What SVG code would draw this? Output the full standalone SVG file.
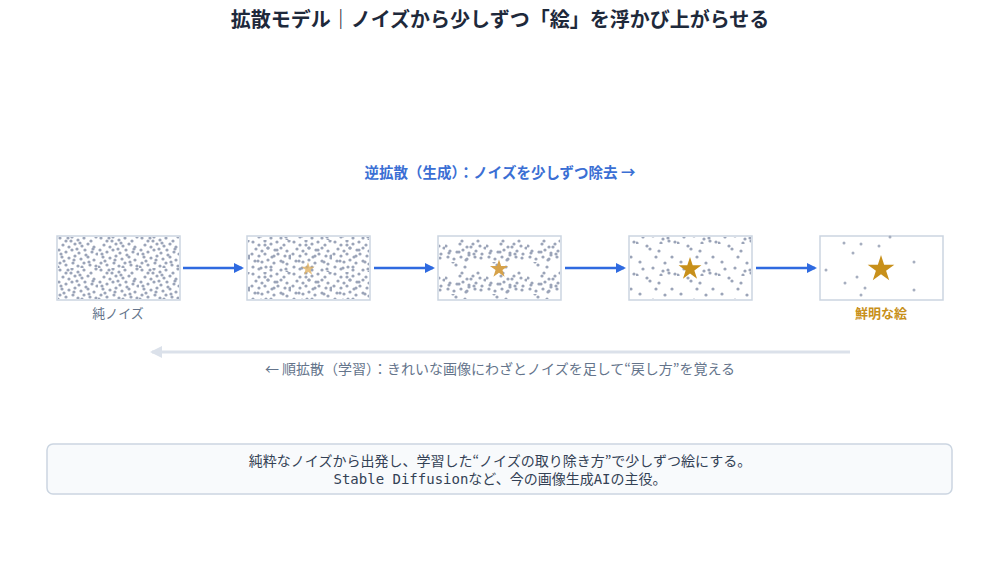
<svg xmlns="http://www.w3.org/2000/svg" width="1000" height="567" viewBox="0 0 1000 567">
<style>
.t{font-family:"Noto Sans CJK JP","Noto Sans",sans-serif}
.fr{fill:#fff;stroke:#cbd5e1;stroke-width:1.5}
.ar{stroke:#2f6ae0;stroke-width:2.5;fill:none;marker-end:url(#ah)}
</style>
<defs>
<marker id="ah" markerWidth="10" markerHeight="10" refX="8" refY="5" orient="auto" markerUnits="userSpaceOnUse"><path d="M0,0 L10,5 L0,10 z" fill="#2f6ae0"/></marker>
<marker id="ag" markerWidth="12" markerHeight="12" refX="10" refY="6" orient="auto" markerUnits="userSpaceOnUse"><path d="M0,0 L12,6 L0,12 z" fill="#dbe1ea"/></marker>
<g id="dA" fill="#9ba4b8"><circle cx="3" cy="2" r="1.6"/><circle cx="9" cy="5" r="1.6"/><circle cx="15" cy="1" r="1.6"/><circle cx="21" cy="4" r="1.6"/><circle cx="27" cy="2" r="1.6"/><circle cx="34" cy="5" r="1.6"/><circle cx="39" cy="1" r="1.6"/><circle cx="6" cy="9" r="1.6"/><circle cx="12" cy="11" r="1.6"/><circle cx="18" cy="8" r="1.6"/><circle cx="25" cy="10" r="1.6"/><circle cx="31" cy="8" r="1.6"/><circle cx="37" cy="11" r="1.6"/><circle cx="2" cy="14" r="1.6"/><circle cx="9" cy="16" r="1.6"/></g>
<g id="dB" fill="#9ba4b8"><circle cx="15" cy="14" r="1.6"/><circle cx="22" cy="17" r="1.6"/><circle cx="28" cy="14" r="1.6"/><circle cx="35" cy="16" r="1.6"/><circle cx="40" cy="18" r="1.6"/><circle cx="5" cy="21" r="1.6"/><circle cx="12" cy="22" r="1.6"/><circle cx="18" cy="20" r="1.6"/><circle cx="24" cy="23" r="1.6"/><circle cx="31" cy="21" r="1.6"/><circle cx="37" cy="24" r="1.6"/><circle cx="3" cy="27" r="1.6"/><circle cx="9" cy="29" r="1.6"/><circle cx="16" cy="27" r="1.6"/><circle cx="21" cy="30" r="1.6"/></g>
<g id="dC" fill="#9ba4b8"><circle cx="27" cy="27" r="1.6"/><circle cx="33" cy="29" r="1.6"/><circle cx="39" cy="30" r="1.6"/><circle cx="7" cy="25" r="1.6"/><circle cx="29" cy="19" r="1.6"/><circle cx="14" cy="5" r="1.6"/><circle cx="36" cy="13" r="1.6"/><circle cx="20" cy="13" r="1.6"/><circle cx="1" cy="31" r="1.6"/><circle cx="25" cy="31" r="1.6"/><circle cx="11" cy="2" r="1.6"/><circle cx="32" cy="26" r="1.6"/><circle cx="17" cy="24" r="1.6"/><circle cx="4" cy="18" r="1.6"/><circle cx="23" cy="7" r="1.6"/></g>
<pattern id="p1" width="41" height="32" patternUnits="userSpaceOnUse" x="57" y="236"><use href="#dA"/><use href="#dB"/><use href="#dC"/></pattern>
<pattern id="p2" width="41" height="32" patternUnits="userSpaceOnUse" x="250" y="240"><use href="#dA"/><use href="#dB"/><use href="#dC" transform="translate(4,3)"/></pattern>
<pattern id="p3" width="41" height="32" patternUnits="userSpaceOnUse" x="445" y="230"><use href="#dB"/><use href="#dC" transform="translate(-3,-2)"/></pattern>
<pattern id="p4" width="41" height="32" patternUnits="userSpaceOnUse" x="636" y="244"><use href="#dC"/></pattern>
<path id="star" d="M0,-1 L0.2245,-0.309 L0.951,-0.309 L0.3633,0.118 L0.5878,0.809 L0,0.382 L-0.5878,0.809 L-0.3633,0.118 L-0.951,-0.309 L-0.2245,-0.309 z"/>
</defs>
<rect width="1000" height="567" fill="#fff"/>
<text class="t" x="500" y="27" text-anchor="middle" font-size="20" font-weight="bold" fill="#1e293b">拡散モデル｜ノイズから少しずつ「絵」を浮かび上がらせる</text>
<text class="t" x="500" y="178" text-anchor="middle" font-size="14.5" font-weight="bold" fill="#3b6fd4">逆拡散（生成）：ノイズを少しずつ除去 →</text>
<g id="frame1"><rect class="fr" x="57" y="236" width="123" height="64"/><rect x="58" y="237" width="121" height="62" fill="url(#p1)"/><text class="t" x="118" y="318" text-anchor="middle" font-size="13" fill="#64748b">純ノイズ</text></g>
<g id="frame2"><rect class="fr" x="247" y="236" width="123" height="64"/><rect x="248" y="237" width="121" height="62" fill="url(#p2)"/><use href="#star" transform="translate(308,269) scale(7)" fill="#e0b060" opacity="0.8"/></g>
<g id="frame3"><rect class="fr" x="438" y="236" width="123" height="64"/><rect x="439" y="237" width="121" height="62" fill="url(#p3)"/><use href="#star" transform="translate(499,269) scale(9.5)" fill="#d6a24a"/></g>
<g id="frame4"><rect class="fr" x="629" y="236" width="123" height="64"/><rect x="630" y="237" width="121" height="62" fill="url(#p4)"/><use href="#star" transform="translate(690,269) scale(12)" fill="#c8901a"/></g>
<g id="frame5"><rect class="fr" x="820" y="236" width="123" height="64"/><g fill="#a6aebf"><circle cx="844" cy="243" r="1.5"/><circle cx="853" cy="253" r="1.5"/><circle cx="857" cy="277" r="1.5"/><circle cx="865" cy="288" r="1.5"/><circle cx="826" cy="270" r="1.5"/><circle cx="879" cy="246" r="1.5"/><circle cx="861" cy="244" r="1.5"/><circle cx="845" cy="283" r="1.5"/><circle cx="914" cy="262" r="1.5"/><circle cx="914" cy="290" r="1.5"/><circle cx="890" cy="237" r="1.5"/><circle cx="861" cy="295" r="1.5"/></g><use href="#star" transform="translate(881,269) scale(14)" fill="#c8901a"/><text class="t" x="881" y="318" text-anchor="middle" font-size="13" font-weight="bold" fill="#c8901a">鮮明な絵</text></g>
<g id="connectors"><line class="ar" x1="183" y1="268" x2="242" y2="268"/><line class="ar" x1="374" y1="268" x2="433" y2="268"/><line class="ar" x1="565" y1="268" x2="624" y2="268"/><line class="ar" x1="756" y1="268" x2="815" y2="268"/><line x1="850" y1="352" x2="152" y2="352" stroke="#dbe1ea" stroke-width="3" marker-end="url(#ag)"/></g>
<text class="t" x="500" y="374" text-anchor="middle" font-size="14" fill="#64748b">← 順拡散（学習）：きれいな画像にわざとノイズを足して“戻し方”を覚える</text>
<g id="note"><rect x="47" y="444" width="905" height="50" rx="6" fill="#f8fafc" stroke="#cbd5e1" stroke-width="1.5"/><text class="t" x="500" y="466" text-anchor="middle" font-size="14" fill="#334155">純粋なノイズから出発し、学習した“ノイズの取り除き方”で少しずつ絵にする。</text><text class="t" x="500" y="484" text-anchor="middle" font-size="14" fill="#334155"><tspan font-family="'DejaVu Sans Mono',monospace">Stable Diffusion</tspan>など、今の画像生成<tspan font-family="'DejaVu Sans Mono',monospace">AI</tspan>の主役。</text></g>
</svg>
